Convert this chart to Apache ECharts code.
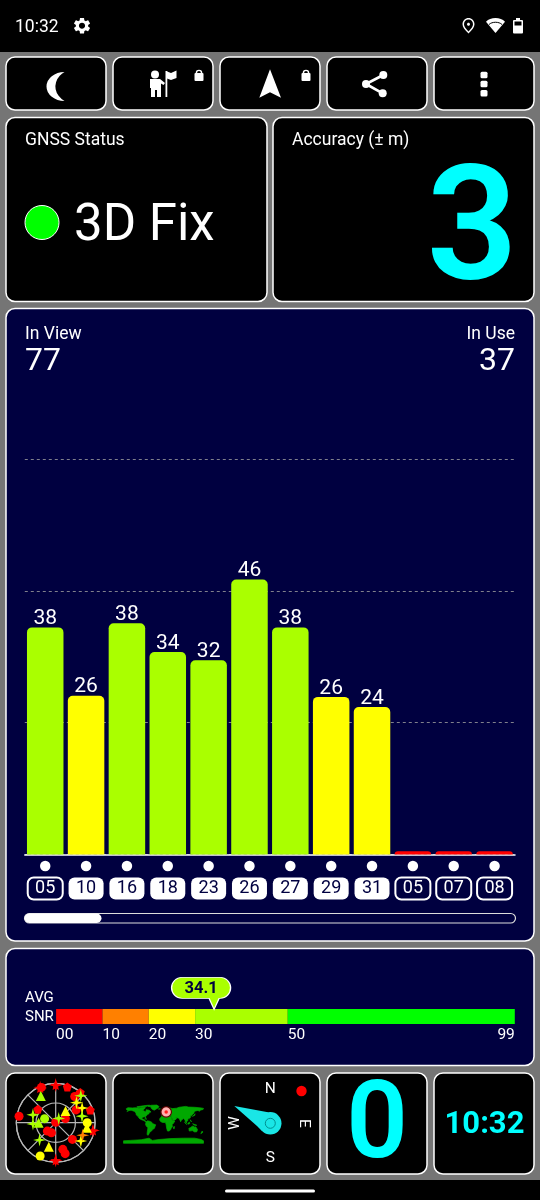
<!DOCTYPE html>
<html><head><meta charset="utf-8">
<style>html,body{margin:0;padding:0;background:#000}#c{width:540px;height:1200px}</style>
<script src="https://cdn.jsdelivr.net/npm/echarts@6/dist/echarts.min.js"></script>
</head><body><div id="c"></div>
<script>
// ---- data ----
const satIds      = ['05','10','16','18','23','26','27','29','31','05','07','08'];
const satInUse    = [false,true,true,true,true,true,true,true,true,false,false,false];
const satSnr      = [37.9,26.5,38.6,33.8,32.4,45.9,37.9,26.3,24.6,0.55,0.55,0.55];
const satSnrLabel = ['38','26','38','34','32','46','38','26','24','','',''];
const snrBandSizes  = [10,10,10,20,49];
const snrBandColors = ['#ff0000','#ff8000','#ffff00','#aaff00','#00ff00'];
const snrTicks = [0,10,20,30,50,99];
const avgSnr = 34.1;
const inView = '77', inUse = '37', accuracy = '3', fixLabel = '3D Fix';
// sky plot: [distance from centre 0..90, bearing clockwise from north]
const skyRedCircle = [[85,280],[87,338],[74,36],[55,58],[24,67],[1,0],[27,225],[25,203],[54,135],[63,165],[74,163]];
const skyRedStar   = [[86,0],[87,102],[86,180],[87,336]];
const skyRedPent   = [[86,18],[51,307],[84,70],[89,39]];
const skyLimeTri   = [[70,331],[39,270]];
const skyYellowTri = [[35,40],[57,196],[72,99]];
const skyYellowDot = [[84,205],[72,90]];
const skyLimeDot   = [[27,290]];
const skyLimeStar  = [[55,289],[52,267],[12,35],[54,223],[62,76],[84,43]];
const skyYellowStar= [[66,46],[69,61],[71,126]];
const skyOrangeStar= [[68,115]];
const myPosition = [[12,52]];
// coarse world outlines [lon,lat]
const landNorthAmerica = [[-168,66],[-160,71],[-140,70],[-125,71],[-110,69],[-95,72],[-82,73],[-85,66],[-94,60],[-85,55],[-79,52],[-78,62],[-65,60],[-56,52],[-66,49],[-65,44],[-74,40],[-76,35],[-81,31],[-80,25],[-84,30],[-90,29],[-97,27],[-97,21],[-91,19],[-88,21],[-87,16],[-83,15],[-83,9],[-78,8],[-81,7],[-88,13],[-96,16],[-105,20],[-110,24],[-113,30],[-117,33],[-123,39],[-124,47],[-132,55],[-146,60],[-155,58],[-165,54],[-158,60],[-166,62]];
const landGreenland = [[-55,82],[-30,83],[-20,76],[-25,70],[-42,60],[-52,65],[-58,75],[-70,78]];
const landArctic = [[-120,75],[-90,80],[-70,82],[-62,82],[-78,76],[-95,74],[-115,72]];
const landSouthAmerica = [[-78,8],[-72,12],[-62,10],[-52,5],[-50,0],[-35,-6],[-38,-14],[-41,-22],[-48,-26],[-54,-34],[-62,-39],[-65,-46],[-69,-53],[-74,-50],[-73,-38],[-70,-18],[-76,-14],[-81,-5],[-80,1]];
const landAfrica = [[-17,15],[-17,21],[-10,30],[-6,35],[10,37],[11,33],[20,31],[32,31],[35,25],[38,17],[43,11],[51,11],[45,1],[39,-5],[40,-15],[35,-20],[33,-26],[26,-34],[18,-34],[14,-20],[12,-6],[9,4],[-5,5],[-13,9]];
const landEurasia = [[-9,37],[-9,43],[0,45],[-4,48],[5,53],[10,56],[20,55],[28,60],[20,60],[22,66],[14,62],[5,60],[12,66],[25,71],[40,67],[60,69],[70,73],[100,77],[112,74],[140,73],[170,70],[180,68],[178,63],[165,60],[162,55],[155,59],[140,55],[135,44],[128,39],[126,34],[121,39],[118,38],[122,31],[120,25],[110,21],[106,18],[109,12],[104,9],[100,13],[103,2],[98,8],[97,16],[90,22],[80,15],[77,8],[72,20],[66,25],[57,26],[52,28],[48,30],[55,24],[59,22],[52,16],[43,13],[39,22],[34,29],[35,36],[27,37],[26,40],[22,37],[19,42],[13,45],[18,40],[12,43],[3,43],[-1,38]];
const landIslands = [[[-5,50],[1,51],[-2,58],[-6,57]],[[-23,65],[-14,66],[-15,64]],[[130,32],[141,37],[142,44],[138,38]],[[44,-16],[50,-14],[47,-25],[44,-22]],[[173,-35],[178,-38],[168,-46]],[[109,1],[117,6],[118,0],[112,-3]],[[95,5],[105,-5],[102,-4]],[[131,-1],[150,-8],[140,-8]],[[120,17],[126,7],[122,8]],[[-84,22],[-75,20],[-78,22]]];
const landAustralia = [[114,-22],[122,-18],[130,-12],[136,-12],[140,-17],[145,-15],[153,-27],[150,-37],[140,-38],[130,-32],[116,-34]];
const landAntarctica = [[-180,-78],[-150,-76],[-100,-73],[-65,-66],[-50,-76],[-20,-72],[30,-68],[90,-66],[140,-66],[170,-72],[180,-78],[180,-89],[-180,-89]];

// ---- helpers ----
const FONT = 'Roboto';
const NAVY = '#000040', GREY = '#757575', CYAN = '#00ffff', LAND = '#00a800', NEEDLE = '#1ae6e6';
const bandColor = v => { let s = 0; for (let i = 0; i < snrBandSizes.length; i++) { s += snrBandSizes[i]; if (v < s) return snrBandColors[i]; } return snrBandColors[4]; };
const els = [];
const rect = (x,y,w,h,fill,r,stroke,lw) => els.push({type:'rect',shape:{x,y,width:w,height:h,r:r||0},style:{fill:fill||'transparent',stroke:stroke||null,lineWidth:lw||0},silent:true});
const panel = (x,y,w,h,fill) => rect(x,y,w,h,fill||'#000',9,'#fff',1.5);
const circle = (cx,cy,r,fill,stroke,lw) => els.push({type:'circle',shape:{cx,cy,r},style:{fill:fill||'transparent',stroke:stroke||null,lineWidth:lw||0},silent:true});
const poly = (points,fill) => els.push({type:'polygon',shape:{points},style:{fill},silent:true});
const line = (x1,y1,x2,y2,c,w) => els.push({type:'line',shape:{x1,y1,x2,y2},style:{stroke:c||'#fff',lineWidth:w||1,lineCap:'round'},silent:true});
let iconNo = 0;
const path = (d,x,y,w,h,fill) => {
  const name = 'icon' + (iconNo++);
  const Clz = echarts.graphic.extendPath(d,{});
  echarts.graphic.registerShape(name,Clz);
  const b = new Clz().getBoundingRect();
  const sx = w/b.width, sy = h/b.height;
  els.push({type:name,x:x-b.x*sx,y:y-b.y*sy,scaleX:sx,scaleY:sy,style:{fill},silent:true});
};
// text centred on y; the font's box sits slightly above the visible digits, so it is nudged by a share of the size
const text = (t,x,y,size,o) => { o=o||{}; const nudge = o.rot ? 0 : size*0.085; els.push({type:'text',x,y:y+nudge,rotation:o.rot||0,style:{text:t,fill:o.color||'#fff',font:(o.weight||400)+' '+size+'px '+FONT,align:o.align||'left',verticalAlign:'middle'},silent:true}); };

// page bands
rect(0,0,540,1200,'#000');
rect(0,52,540,1128,GREY);
// status bar
text('10:32',15,26,17.5);
path('M19.14 12.94c.04-.3.06-.61.06-.94 0-.32-.02-.64-.07-.94l2.03-1.58c.18-.14.23-.41.12-.61l-1.92-3.32c-.12-.22-.37-.29-.59-.22l-2.39.96c-.5-.38-1.03-.7-1.62-.94l-.36-2.54c-.04-.24-.24-.41-.48-.41h-3.84c-.24 0-.43.17-.47.41l-.36 2.54c-.59.24-1.13.57-1.62.94l-2.39-.96c-.22-.08-.47 0-.59.22L2.74 8.87c-.12.21-.08.47.12.61l2.03 1.58c-.05.3-.09.63-.09.94s.02.64.07.94l-2.03 1.58c-.18.14-.23.41-.12.61l1.92 3.32c.12.22.37.29.59.22l2.39-.96c.5.38 1.03.7 1.62.94l.36 2.54c.05.24.24.41.48.41h3.84c.24 0 .44-.17.47-.41l.36-2.54c.59-.24 1.13-.56 1.62-.94l2.39.96c.22.08.47 0 .59-.22l1.92-3.32c.12-.22.07-.47-.12-.61l-2.01-1.58zM12 15.6c-1.98 0-3.6-1.62-3.6-3.6s1.62-3.6 3.6-3.6 3.6 1.62 3.6 3.6-1.62 3.6-3.6 3.6z',74,18,16,15.5,'#fff');
path('M12 12c-1.1 0-2-.9-2-2s.9-2 2-2 2 .9 2 2-.9 2-2 2zm6-1.8C18 6.57 15.35 4 12 4s-6 2.57-6 6.2c0 2.34 1.95 5.44 6 9.14 4.05-3.7 6-6.8 6-9.14zM12 2c4.2 0 8 3.22 8 8.2 0 3.32-2.67 7.25-8 11.8-5.33-4.55-8-8.48-8-11.8C4 5.22 7.8 2 12 2z',462.5,18,12,15.5,'#fff');
path('M12 21 L0 7.5 C3 4.5 7 3 12 3 C17 3 21 4.5 24 7.5 Z',486,18,19,15,'#fff');
els.push({type:'bezierCurve',shape:{x1:489,y1:24.5,cpx1:492,cpy1:21.5,cpx2:499,cpy2:21.5,x2:502,y2:24.5},style:{stroke:'#000',lineWidth:1,fill:'transparent'},silent:true});
rect(513,20,10,13.5,'#fff',1);
rect(516,18,4,2,'#fff');
rect(514.5,21.5,7,4,'#000');

// top buttons
[6,113,220,327,434].forEach(x => panel(x,57,100,53));
path('M64,72 A14.5,14.5 0 1 0 64,101 A18,18 0 0 1 64,72 Z',46.5,72,18,29,'#fff');
// person with flag
circle(155,74.5,4,'#fff');
path('M150,79 H160 L165,83 L163.5,85 L161,83.5 V97 H157 V90 H155 V97 H151 V88 H150 Z',150,79,15,18,'#fff');
rect(165.5,71,1.8,26,'#fff');
poly([[167,71.5],[171,73],[176.5,70.5],[176.5,78],[171,80],[167,78.5]],'#fff');
// lock icons
[199,306].forEach(x => { rect(x-4.5,73,9,8,'#fff',1); els.push({type:'arc',shape:{cx:x,cy:73,r:2.6,startAngle:Math.PI,endAngle:0},style:{stroke:'#fff',lineWidth:1.4,fill:'transparent'},silent:true}); });
poly([[270,69.3],[281,97.7],[270,92.3],[259.3,97.7]],'#fff');
// share
line(366,84,383.3,75,'#fff',2.6); line(366,84,382.7,93.3,'#fff',2.6);
circle(383.3,75,4,'#fff'); circle(366,84,4,'#fff'); circle(382.7,93.3,4,'#fff');
// overflow dots
[75,84,93.3].forEach(y => rect(480.5,y-3.2,7,6.4,'#fff',1.5));

// status and accuracy
panel(6,117.5,261,184); panel(273,117.5,261,184);
text('GNSS Status',25,139,17.5);
text('Accuracy (\u00b1 m)',292,139,17.5);
circle(42,222.5,17,'#00ff00','#fff',1);
text(fixLabel,74,223,51);
text(accuracy,518,224,160,{color:CYAN,align:'right',weight:600});

// satellites panel
panel(6,308.5,528,632.5,NAVY);
text('In View',25,333.5,17.5);
text('In Use',515,333,17.5,{align:'right'});
text(inView,25,359.5,32);
text(inUse,515,359.5,32,{align:'right'});
// scroll track
rect(24.5,913.5,491,9.5,NAVY,5,'#ddd',1.2);
rect(24.5,913.5,77,9.5,'#fff',5);

// snr panel
panel(6,948.5,528,117,NAVY);
text('AVG',25,997,15);
text('SNR',25,1016,15);

// bottom row
[6,113,220,327,434].forEach(x => panel(x,1073,100,101));
// compass
text('N',270.3,1088,15.5,{align:'center'});
text('S',270.3,1157,15.5,{align:'center'});
text('E',304,1123.3,15.5,{align:'center',rot:-Math.PI/2});
text('W',235.5,1123,15.5,{align:'center',rot:Math.PI/2});
circle(301.5,1091,5.2,'#ff0000');
poly([[234.3,1106],[268,1112.2],[262,1131],[257,1126]],NEEDLE);
circle(270.3,1123.3,11.2,NEEDLE);
circle(270.3,1123.3,5,NEEDLE,'#009090',1);
// big readouts
text('0',377,1121,108,{color:CYAN,align:'center',weight:600});
text('10:32',484.5,1123,31,{color:CYAN,align:'center',weight:700});
// gesture pill
rect(225,1189.5,90,3,'#fff',1.5);

// ---- world map ----
const featureOf = (name,rings) => ({type:'Feature',properties:{name},geometry:{type:'MultiPolygon',coordinates:rings.map(r=>[r.concat([r[0]])])}});
echarts.registerMap('world',{type:'FeatureCollection',features:[
  featureOf('North America',[landNorthAmerica,landGreenland,landArctic]),
  featureOf('South America',[landSouthAmerica]),
  featureOf('Africa',[landAfrica]),
  featureOf('Eurasia',[landEurasia]),
  featureOf('Oceania',[landAustralia]),
  featureOf('Islands',landIslands),
  featureOf('Antarctica',[landAntarctica])
]});

// ---- sky series ----
const STAR4 = 'path://M0,-10 L2,-2 L10,0 L2,2 L0,10 L-2,2 L-10,0 L-2,-2 Z';
const STAR5 = 'path://M0,-10 L2.9,-3.1 L9.5,-3.1 L4.7,1.8 L5.9,8.1 L0,5 L-5.9,8.1 L-4.7,1.8 L-9.5,-3.1 L-2.9,-3.1 Z';
const PENT = 'path://M0,-10 L9.5,-3.1 L5.9,8.1 L-5.9,8.1 L-9.5,-3.1 Z';
const sky = (data,symbol,size,color) => ({type:'scatter',coordinateSystem:'polar',polarIndex:0,data,symbol,symbolSize:size,itemStyle:{color,opacity:1},silent:true,z:3});

const option = {
  animation:false,
  backgroundColor:'#000',
  graphic:{z:-1,elements:els},
  grid:[
    {left:24.8,width:490.2,top:459,height:395.5},
    {left:24.8,width:490.2,top:860,height:12},
    {left:56.1,width:458.7,top:1009,height:15}
  ],
  xAxis:[
    {type:'category',gridIndex:0,data:satIds,
     axisLine:{show:true,lineStyle:{color:'#fff',width:1.5}},axisTick:{show:false},
     axisLabel:{interval:0,margin:23,hideOverlap:false,
       formatter:(v,i)=>'{'+(satInUse[i]?'on':'off')+'|'+v+'}',
       rich:{
         on:{width:35,height:22,lineHeight:22,align:'center',backgroundColor:'#fff',borderRadius:6,color:NAVY,fontSize:18,fontFamily:FONT},
         off:{width:35,height:22,lineHeight:22,align:'center',backgroundColor:'transparent',borderColor:'#fff',borderWidth:1,borderRadius:6,color:'#fff',fontSize:18,fontFamily:FONT}
       }}},
    {type:'category',gridIndex:1,data:satIds,show:false},
    {type:'value',gridIndex:2,min:0,max:99,splitLine:{show:false},axisLine:{show:false},axisTick:{show:false},
     axisLabel:{customValues:snrTicks,margin:3,align:'left',alignMaxLabel:'right',color:'#fff',fontSize:15.5,fontFamily:FONT,
       formatter:v=>String(v).padStart(2,'0')}}
  ],
  yAxis:[
    {type:'value',gridIndex:0,min:0,max:66,interval:22,axisLabel:{show:false},axisLine:{show:false},axisTick:{show:false},
     splitLine:{show:true,lineStyle:{color:'#80808c',type:[3,3],width:1}}},
    {type:'value',gridIndex:1,min:0,max:1,show:false},
    {type:'category',gridIndex:2,data:['SNR'],show:false}
  ],
  polar:{center:[55.7,1122.7],radius:39.4},
  angleAxis:{type:'value',min:0,max:360,interval:45,startAngle:90,clockwise:true,
    axisLine:{show:true,lineStyle:{color:'#b8b8b8',width:1.2}},axisTick:{show:false},axisLabel:{show:false},
    splitLine:{show:true,lineStyle:{color:'#b8b8b8',width:1.2}}},
  radiusAxis:{type:'value',min:0,max:90,interval:45,axisLine:{show:false},axisTick:{show:false},axisLabel:{show:false},
    splitLine:{show:true,lineStyle:{color:'#b8b8b8',width:1.2}}},
  geo:{map:'world',roam:false,silent:true,left:123.5,top:1103.5,width:80,height:40,aspectScale:1,
    boundingCoords:[[-180,90],[180,-90]],label:{show:false},
    itemStyle:{areaColor:LAND,borderColor:LAND,borderWidth:0.7},emphasis:{disabled:true}},
  series:[
    {type:'bar',xAxisIndex:0,yAxisIndex:0,barWidth:36.5,
     data:satSnr.map(v=>({value:v,itemStyle:{color:bandColor(v),borderRadius:[5,5,0,0]}})),
     label:{show:true,position:'top',distance:1,offset:[0,3],color:'#fff',fontSize:21,fontFamily:FONT,formatter:p=>satSnrLabel[p.dataIndex]},silent:true},
    {type:'scatter',xAxisIndex:1,yAxisIndex:1,data:satIds.map((s,i)=>[i,0.5]),symbol:'circle',symbolSize:10.5,itemStyle:{color:'#fff',opacity:1},silent:true},
    ...snrBandSizes.map((v,i)=>({type:'bar',xAxisIndex:2,yAxisIndex:2,stack:'snr',barWidth:15,data:[v],itemStyle:{color:snrBandColors[i]},silent:true})),
    {type:'scatter',xAxisIndex:2,yAxisIndex:2,clip:false,z:5,data:[[avgSnr,0]],
     symbol:'path://M10,0 H48 A10.5,10.5 0 0 1 48,21 H47 L42,32 L37,21 H10 A10.5,10.5 0 0 1 10,0 Z',
     symbolSize:[59,32],symbolOffset:[-13,-23.2],itemStyle:{color:bandColor(avgSnr),borderColor:'#fff',borderWidth:1,opacity:1},
     label:{show:true,position:'inside',offset:[0,-4],color:NAVY,fontSize:16.5,fontWeight:700,fontFamily:FONT,formatter:p=>String(avgSnr)},silent:true},
    sky(skyRedCircle,'circle',9,'#ff0000'),
    sky(skyRedStar,STAR4,14,'#ff0000'),
    sky(skyRedStar,STAR5,10,'#ff0000'),
    sky(skyRedPent,PENT,9,'#ff0000'),
    sky(skyLimeTri,'triangle',10,'#aaff00'),
    sky(skyYellowTri,'triangle',10,'#ffff00'),
    sky(skyYellowDot,'circle',9,'#ffff00'),
    sky(skyLimeDot,'circle',9,'#aaff00'),
    sky(skyLimeStar,STAR4,13,'#aaff00'),
    sky(skyYellowStar,STAR4,13,'#ffff00'),
    sky(skyOrangeStar,STAR4,13,'#ff8000'),
    {type:'scatter',coordinateSystem:'geo',geoIndex:0,data:myPosition,symbol:'circle',symbolSize:10.5,itemStyle:{color:'#ffb0b0',borderColor:'#5a0000',borderWidth:1.2,opacity:1},silent:true,z:3},
    {type:'scatter',coordinateSystem:'geo',geoIndex:0,data:myPosition,symbol:'circle',symbolSize:3.5,itemStyle:{color:'#ff2020',opacity:1},silent:true,z:4}
  ]
};
const chart = echarts.init(document.getElementById('c'),null,{width:540,height:1200,renderer:'canvas',devicePixelRatio:1});
chart.setOption(option);
</script></body></html>
